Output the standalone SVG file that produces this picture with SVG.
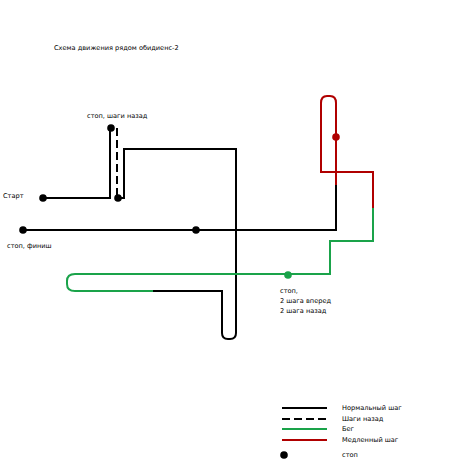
<svg xmlns="http://www.w3.org/2000/svg" width="450" height="465" viewBox="0 0 450 465">
<style>
.t{font-family:"DejaVu Sans","Liberation Sans",sans-serif;font-size:6.6px;fill:#000}
.n{fill:none;stroke:#000;stroke-width:2}
.d{fill:none;stroke:#000;stroke-width:2;stroke-dasharray:8,4}
.g{fill:none;stroke:#1aa34a;stroke-width:2}
.r{fill:none;stroke:#b00000;stroke-width:2}
</style>
<rect width="450" height="465" fill="#fff"/>
<text class="t" x="54" y="50">Схема движения рядом обидиенс-2</text>
<g id="connectors">
<path class="n" d="M43,198 H110 V128"/>
<path class="d" d="M117,128 V198"/>
<path class="n" d="M118,198 H124 V149 H236 V333 Q236,339 230,339 H228 Q222,339 222,333 V291 H153"/>
<path class="n" d="M23,230 H336 V185"/>
<path class="r" d="M336,185 V103 Q336,96 330,96 H327 Q321,96 321,103 V172 H373 V208"/>
<path class="g" d="M373,208 V241 H330 V274 H75 Q67,274 67,281 V284 Q67,291 75,291 H153"/>
</g>
<g id="n-start"><circle cx="43" cy="198" r="3.8"/><text class="t" x="3" y="198">Старт</text></g>
<g id="n-stop-back"><circle cx="111" cy="128" r="3.8"/><text class="t" x="87" y="118">стоп, шаги назад</text></g>
<g id="n-back-end"><circle cx="118" cy="198" r="3.8"/></g>
<g id="n-finish"><circle cx="23" cy="230" r="3.8"/><text class="t" x="7" y="248">стоп, финиш</text></g>
<g id="n-mid"><circle cx="196" cy="230" r="3.8"/></g>
<g id="n-red"><circle cx="336" cy="137" r="3.8" fill="#b00000"/></g>
<g id="n-green"><circle cx="288" cy="275" r="3.8" fill="#1aa34a"/><text class="t" x="280" y="293">стоп,</text><text class="t" x="280" y="303">2 шага вперед</text><text class="t" x="280" y="313">2 шага назад</text></g>
<g id="legend">
<line class="n" x1="282" y1="408" x2="327" y2="408"/>
<line class="d" x1="282" y1="419" x2="327" y2="419"/>
<line class="g" x1="282" y1="429" x2="327" y2="429"/>
<line class="r" x1="282" y1="440" x2="327" y2="440"/>
<circle cx="284" cy="455" r="3.8"/>
<text class="t" x="342" y="410">Нормальный шаг</text>
<text class="t" x="342" y="421">Шаги назад</text>
<text class="t" x="342" y="431">Бег</text>
<text class="t" x="342" y="442">Медленный шаг</text>
<text class="t" x="342" y="457">стоп</text>
</g>
</svg>
